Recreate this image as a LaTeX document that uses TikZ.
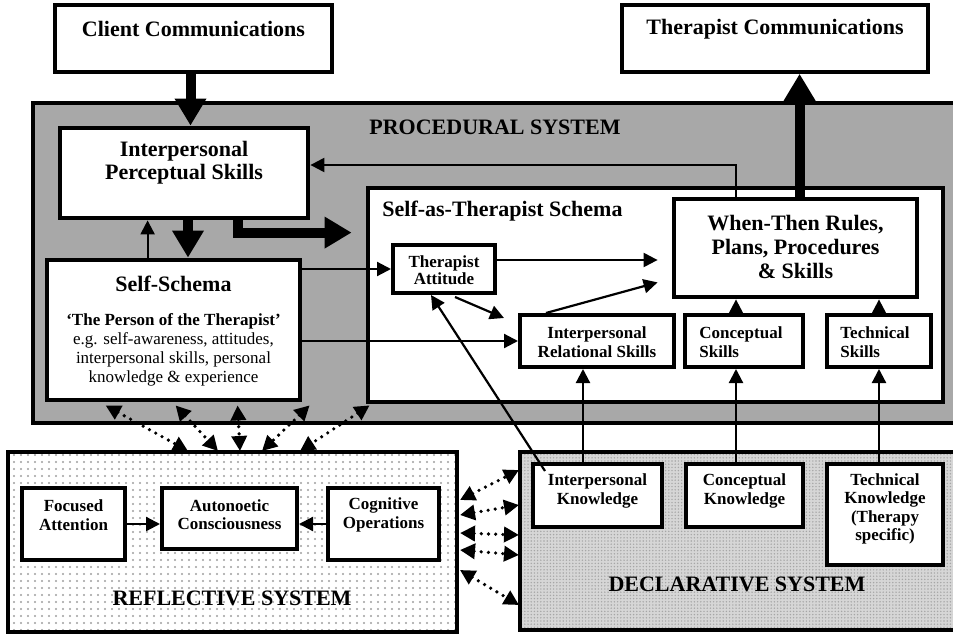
\documentclass[tikz,border=0pt]{standalone}
\usepackage{fontspec}
\setmainfont{Liberation Serif}
\usetikzlibrary{arrows.meta,calc,patterns.meta}
\definecolor{procgray}{RGB}{168,168,168}
\definecolor{declgray}{RGB}{214,214,214}
\begin{document}
\begin{tikzpicture}[x=0.5pt,y=-0.5pt,
  commbox/.style={draw, line width=1.8pt, fill=white, inner sep=0pt, rectangle},
  bigbox/.style={draw, line width=2.4pt, fill=white, inner sep=0pt, rectangle},
  smallbox/.style={draw, line width=2pt, fill=white, inner sep=0pt, rectangle},
  bigtext/.style={font=\fontsize{11}{11.5}\selectfont\bfseries, align=center, inner sep=0pt},
  smalltext/.style={font=\fontsize{8.5}{9.2}\selectfont\bfseries, align=center, inner sep=0pt},
  smallreg/.style={font=\fontsize{8.5}{9.5}\selectfont, align=center, inner sep=0pt},
  arr/.style={line width=1.1pt, -{Triangle[length=7pt,width=7pt]}},
  fatarr/.style={line width=5pt, -{Triangle[length=13.5pt,width=15pt]}},
  dotarr/.style={line width=1.8pt, line cap=round, dash pattern=on 0pt off 3.6pt,
     {Triangle[length=7.5pt,width=7.5pt]}-{Triangle[length=7.5pt,width=7.5pt]}},
]
\useasboundingbox (0,0) rectangle (953,637);

% ---------- procedural system ----------
\draw[line width=2.4pt, fill=procgray] (33,103) rectangle (970,423);
\node[bigtext] (proct) at (495,127) {PROCEDURAL SYSTEM};

% ---------- communications ----------
\node[commbox, minimum width=138.5pt, minimum height=33.5pt] (cc) at (193.5,38.5) {};
\node[bigtext] (cct) at (193.5,29) {Client Communications};
\node[commbox, minimum width=153pt, minimum height=33.5pt] (tc) at (775,38.5) {};
\node[bigtext] (tct) at (775,29) {Therapist Communications};

% ---------- procedural boxes ----------
\node[bigbox, minimum width=124pt, minimum height=45pt] (ips) at (184,173) {};
\node[bigtext] (ipst) at (184,163) {Interpersonal\\Perceptual Skills};

\node[bigbox, minimum width=126.5pt, minimum height=70pt] (ss) at (173.5,330) {};
\node[bigtext] (sst1) at (173.5,284) {Self-Schema};
\node[smallreg] (sst2) at (173.5,350) {\textbf{`The Person of the Therapist'}\\e.g. self-awareness, attitudes,\\interpersonal skills, personal\\knowledge \& experience};

\node[bigbox, minimum width=287.5pt, minimum height=107pt] (sat) at (655.5,295) {};
\node[bigtext, anchor=west] (satt) at (382,211) {Self-as-Therapist Schema};

\node[smallbox, minimum width=51pt, minimum height=24pt] (ta) at (444,269) {};
\node[smalltext, font=\fontsize{8.5}{8.6}\selectfont\bfseries] (tat) at (444,270) {Therapist\\Attitude};

\node[bigbox, minimum width=121.5pt, minimum height=49pt] (wt) at (795.5,248) {};
\node[bigtext, font=\fontsize{11}{12}\selectfont\bfseries] (wtt) at (795.5,247) {When-Then Rules,\\Plans, Procedures\\\& Skills};

\node[smallbox, minimum width=77pt, minimum height=26pt] (irs) at (597,341) {};
\node[smalltext] (irst) at (597,342) {Interpersonal\\Relational Skills};
\node[smallbox, minimum width=59pt, minimum height=26pt] (cs) at (744,341) {};
\node[smalltext, align=left, anchor=west] (cst) at (699,342) {Conceptual\\Skills};
\node[smallbox, minimum width=52pt, minimum height=26pt] (ts) at (879,341) {};
\node[smalltext, align=left, anchor=west] (tst) at (840,342) {Technical\\Skills};

% ---------- reflective system ----------
\path[preaction={fill=white}, pattern={Dots[distance=3.5pt,radius=0.55pt]}, pattern color=gray!75] (8,452) rectangle (457,632);
\draw[line width=2pt] (8,452) rectangle (457,632);
\node[bigtext] (reflt) at (232,598) {REFLECTIVE SYSTEM};
\node[smallbox, minimum width=51.5pt, minimum height=36pt] (fa) at (73.5,524) {};
\node[smalltext] (fat) at (73.5,515) {Focused\\Attention};
\node[smallbox, minimum width=67.5pt, minimum height=30.5pt] (ac) at (229.5,518.5) {};
\node[smalltext] (act) at (229.5,515) {Autonoetic\\Consciousness};
\node[smallbox, minimum width=55.5pt, minimum height=36pt] (co) at (383.5,524) {};
\node[smalltext] (cot) at (383.5,515) {Cognitive\\Operations};

% ---------- declarative system ----------
\path[preaction={fill=declgray}, pattern={Dots[distance=1.6pt,radius=0.4pt]}, pattern color=gray!70] (520,452) rectangle (970,630);
\draw[line width=2pt] (520,452) rectangle (970,630);
\node[bigtext] (declt) at (737,584) {DECLARATIVE SYSTEM};
\node[smallbox, minimum width=64.5pt, minimum height=31.5pt] (ik) at (597.5,495.5) {};
\node[smalltext] (ikt) at (597.5,491) {Interpersonal\\Knowledge};
\node[smallbox, minimum width=58.5pt, minimum height=31.5pt] (ck) at (744.5,495.5) {};
\node[smalltext] (ckt) at (744.5,491) {Conceptual\\Knowledge};
\node[smallbox, minimum width=58pt, minimum height=50.5pt] (tk) at (885,514.5) {};
\node[smalltext] (tkt) at (885,509) {Technical\\Knowledge\\(Therapy\\specific)};

% ---------- coordinates ----------
\coordinate (p0) at ($(cc.south)+(-3,0)$);
\coordinate (pa) at ($(ips.south)+(4,0)$);
\coordinate (p1) at ($(ips.south west)+(90,0)$);
\coordinate (p2) at ($(ips.south west)+(180,0)$);
\coordinate (p2e) at ($(sat.north west)+(-14,47)$);
\coordinate (p3) at ($(wt.north west)+(64,0)$);
\coordinate (p3e) at ($(ips.east)+(0,-8)$);
\coordinate (p4) at ($(wt.north west)+(128,0)$);
\coordinate (p5) at ($(ta.east)+(0,-9)$);
\coordinate (p6) at ($(ta.south west)+(64,2)$);
\coordinate (p6e) at ($(irs.north west)+(-14,5)$);
\coordinate (p7) at ($(irs.north west)+(28,0)$);
\coordinate (p7e) at ($(wt.south west)+(-14,-17)$);
\coordinate (p8) at ($(cs.north west)+(53,0)$);
\coordinate (p9) at ($(ik.north west)+(52,0)$);
\coordinate (p10) at ($(ik.north west)+(14,9)$);
\coordinate (p10e) at ($(ta.south west)+(40,0)$);

% ---------- solid connectors ----------
\draw[fatarr] (p0) -- (p0 |- ips.north);
\draw[fatarr] (pa) -- (pa |- ss.north);
\draw[arr] (p1 |- ss.north) -- (p1);
\draw[fatarr] (p2) |- (p2e);
\draw[arr] (p3) |- (p3e);
\draw[fatarr] (p4) -- (p4 |- tc.south);
\draw[arr] (ta.west -| ss.east) -- (ta.west);
\draw[arr] (irs.west -| ss.east) -- (irs.west);
\draw[arr, shorten >=7pt] (p5) -- (p5 -| wt.west);
\draw[arr] (p6) -- (p6e);
\draw[arr] (p7) -- (p7e);
\draw[arr] (p8) -- (p8 |- wt.south);
\draw[arr] (ts.north) -- (ts.north |- wt.south);
\draw[arr] (p9) -- (p9 |- irs.south);
\draw[arr] (p8 |- ck.north) -- (p8 |- cs.south);
\draw[arr] (ts.south |- tk.north) -- (ts.south);
\draw[arr] (p10) -- (p10e);
\draw[arr] (fa.east) -- (fa.east -| ac.west);
\draw[arr] (co.west) -- (co.west -| ac.east);

% ---------- dotted connectors ----------
\coordinate (u1) at ($(ss.south west)+(61,3)$);
\coordinate (u2) at ($(ss.south west)+(131,3)$);
\coordinate (u3) at ($(ss.south west)+(193,3)$);
\coordinate (u4) at ($(ss.south west)+(265,3)$);
\coordinate (u5) at ($(ss.south west)+(325,3)$);
\coordinate (d1) at (188,451);
\coordinate (d2) at (218,451);
\coordinate (d3) at (240,451);
\coordinate (d4) at (262,451);
\coordinate (d5) at (300,451);
\foreach \i in {1,...,5} {\draw[dotarr] (u\i) -- (d\i);}
\coordinate (l1) at (460,500);
\coordinate (l2) at (460,515);
\coordinate (l3) at (460,533);
\coordinate (l4) at (460,550);
\coordinate (l5) at (460,570);
\coordinate (r1) at (519,470);
\coordinate (r2) at (519,505);
\coordinate (r3) at (519,535);
\coordinate (r4) at (519,555);
\coordinate (r5) at (519,605);
\foreach \i in {1,...,5} {\draw[dotarr] (l\i) -- (r\i);}
\end{tikzpicture}
\end{document}
